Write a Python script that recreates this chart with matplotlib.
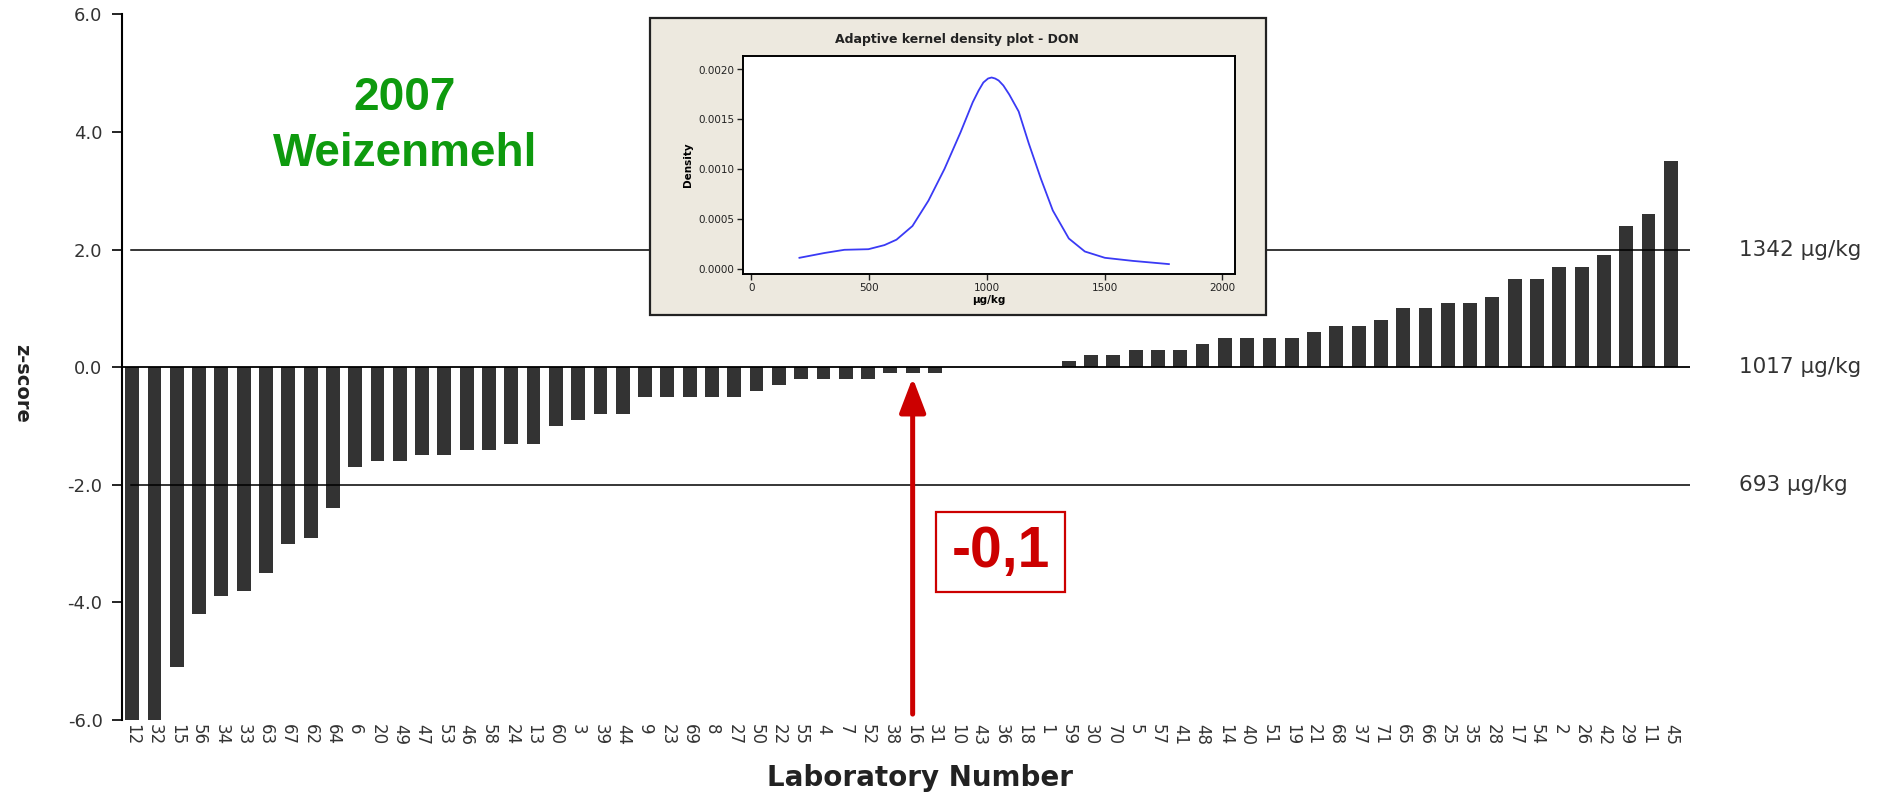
import numpy as np
import matplotlib
matplotlib.use('Agg')
import matplotlib.pyplot as plt
from matplotlib.patches import Rectangle
from matplotlib.transforms import blended_transform_factory

# Labornummern in der Reihenfolge der Balken
labs = ['12', '32', '15', '56', '34', '33', '63', '67', '62', '64',
        '6', '20', '49', '47', '53', '46', '58', '24', '13', '60',
        '3', '39', '44', '9', '23', '69', '8', '27', '50', '22',
        '55', '4', '7', '52', '38', '16', '31', '10', '43', '36',
        '18', '1', '59', '30', '70', '5', '57', '41', '48', '14',
        '40', '51', '19', '21', '68', '37', '71', '65', '66', '25',
        '35', '28', '17', '54', '2', '26', '42', '29', '11', '45']
zscores = [-6.0, -6.0, -5.1, -4.2, -3.9, -3.8, -3.5, -3.0, -2.9, -2.4,
           -1.7, -1.6, -1.6, -1.5, -1.5, -1.4, -1.4, -1.3, -1.3, -1.0,
           -0.9, -0.8, -0.8, -0.5, -0.5, -0.5, -0.5, -0.5, -0.4, -0.3,
           -0.2, -0.2, -0.2, -0.2, -0.1, -0.1, -0.1, 0.0, 0.0, 0.0,
           0.0, 0.0, 0.1, 0.2, 0.2, 0.3, 0.3, 0.3, 0.4, 0.5,
           0.5, 0.5, 0.5, 0.6, 0.7, 0.7, 0.8, 1.0, 1.0, 1.1,
           1.1, 1.2, 1.5, 1.5, 1.7, 1.7, 1.9, 2.4, 2.6, 3.5]

ref_z = [2.0, 0.0, -2.0]
ref_labels = ['1342 µg/kg', '1017 µg/kg', '693 µg/kg']

highlight_lab = '16'
highlight_text = '-0,1'

# Kerndichte
dens_x = [204, 310, 395, 497, 565, 616, 684, 752, 820, 888, 940, 965, 985,
          1005, 1020, 1035, 1050, 1070, 1095, 1135, 1178, 1229, 1280, 1348,
          1416, 1501, 1620, 1773]
dens_y = [0.000117, 0.000165, 0.000197, 0.000203, 0.000244, 0.000298,
          0.000435, 0.000689, 0.001006, 0.001371, 0.001673, 0.00179,
          0.00187, 0.00191, 0.00192, 0.00191, 0.00189, 0.00184, 0.00175,
          0.00158, 0.00126, 0.00091, 0.00059, 0.00031, 0.00018, 0.000117,
          0.000086, 0.000054]

red = '#CC0000'
txt = '#333333'

fig = plt.figure(figsize=(18.79, 7.93), dpi=100)
ax = fig.add_axes([0.0649, 0.0921, 0.8345, 0.8897])

x = np.arange(len(labs))
ax.bar(x, zscores, width=0.62, color='#333333', zorder=2)
ax.axhline(0, color='black', lw=1.3, zorder=3)
trans = blended_transform_factory(ax.transAxes, ax.transData)
for z, t in zip(ref_z, ref_labels):
    if z != 0:
        ax.axhline(z, xmin=0.006, color='black', lw=1.1, zorder=3)
    ax.text(1.031, z, t, transform=trans, ha='left', va='center',
            fontsize=15.5, color=txt)

ax.set_xlim(-0.46, 69.86)
ax.set_ylim(-6, 6)
yt = np.arange(-6, 6.1, 2)
ax.set_yticks(yt)
ax.set_yticklabels([f'{v:.1f}' for v in yt])
for s in ['top', 'right', 'bottom']:
    ax.spines[s].set_visible(False)
ax.spines['left'].set_linewidth(1.5)
ax.tick_params(axis='y', length=7, width=1.2, labelsize=13,
               labelcolor=txt, pad=7)
ax.set_xticks(x)
ax.set_xticklabels(labs, rotation=270, fontsize=12, color=txt)
ax.tick_params(axis='x', length=0, pad=3)

fig.text(22 / 1879, 1 - 383 / 793, 'z-score', rotation=270, ha='center',
         va='center', fontsize=14, fontweight='bold', color='#222222')
fig.text(920 / 1879, 1 / 793, 'Laboratory Number', ha='center', va='bottom',
         fontsize=20, fontweight='bold', color='#222222')

# grüner Titel
green = '#0E9A0E'
fig.text(405 / 1879, 1 - 98 / 793, '2007', ha='center', va='center',
         fontsize=33, fontweight='bold', color=green, family='Liberation Sans')
fig.text(405 / 1879, 1 - 154 / 793, 'Weizenmehl', ha='center', va='center',
         fontsize=33, fontweight='bold', color=green, family='Liberation Sans')

# roter Pfeil auf Labor 16
i = labs.index(highlight_lab)
ax.annotate('', xy=(i, -0.18), xytext=(i, -5.9),
            arrowprops=dict(arrowstyle='-|>,head_length=1.05,head_width=0.4',
                            mutation_scale=20, lw=3.6, color=red,
                            shrinkA=0, shrinkB=0), zorder=5)
fig.patches.append(Rectangle((936 / 1879, 1 - 592 / 793), 129 / 1879, 80.5 / 793,
                             transform=fig.transFigure, fc='white', ec=red,
                             lw=1.6, zorder=1))
fig.text(1000.5 / 1879, 1 - 552 / 793, highlight_text, ha='center', va='center',
         fontsize=41, fontweight='bold', color=red, family='Liberation Sans',
         zorder=3)

# Inset: Kerndichte
fig.patches.append(Rectangle((649.5 / 1879, 1 - 315 / 793), 616 / 1879, 297 / 793,
                             transform=fig.transFigure, fc='#EDE9DF', ec='#222222',
                             lw=1.6, zorder=1))
ins = fig.add_axes([743 / 1879, 1 - 274.2 / 793, 491.6 / 1879, 218.4 / 793])
ins.set_zorder(2)
ins.plot(dens_x, dens_y, color='#3A3AF5', lw=1.3)
ins.set_xlim(-35.7, 2052)
ins.set_ylim(-0.000047, 0.002137)
ins.set_xticks([0, 500, 1000, 1500, 2000])
ins.set_yticks([0, 0.0005, 0.001, 0.0015, 0.002])
ins.set_yticklabels(['0.0000', '0.0005', '0.0010', '0.0015', '0.0020'])
for s in ins.spines.values():
    s.set_linewidth(1.4)
ins.tick_params(length=4, width=1, labelsize=7.5, pad=2, colors='#222222')
ins.set_xlabel('µg/kg', fontsize=7.5, fontweight='bold', labelpad=2)
ins.set_ylabel('Density', fontsize=7.5, fontweight='bold', labelpad=4)
fig.text(957 / 1879, 1 - 39.5 / 793, 'Adaptive kernel density plot - DON',
         ha='center', va='center', fontsize=9, fontweight='bold',
         color='#222222', zorder=3)

fig.savefig('out.png', dpi=100)
